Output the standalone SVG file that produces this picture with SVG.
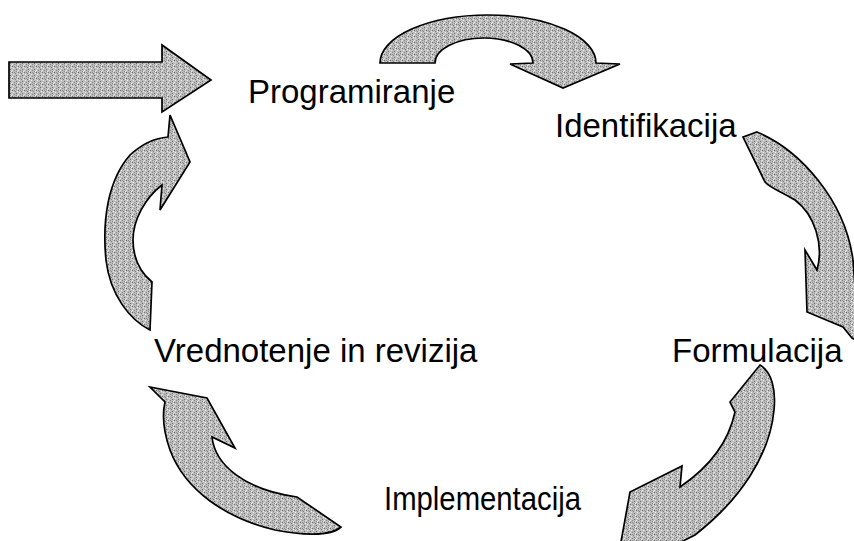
<svg xmlns="http://www.w3.org/2000/svg" width="854" height="541" viewBox="0 0 854 541">
  <defs>
    <!-- fine stipple used to fill the block arrows -->
    <pattern id="stipple" width="6" height="6" patternUnits="userSpaceOnUse">
      <rect width="6" height="6" fill="#bcbcbc"/>
      <rect x="0" y="0" width="1" height="1" fill="#6e6e6e"/>
      <rect x="3" y="1" width="1" height="1" fill="#808080"/>
      <rect x="1" y="2" width="1" height="1" fill="#ececec"/>
      <rect x="4" y="3" width="1" height="1" fill="#707070"/>
      <rect x="2" y="4" width="1" height="1" fill="#888888"/>
      <rect x="5" y="5" width="1" height="1" fill="#eaeaea"/>
      <rect x="0" y="4" width="1" height="1" fill="#e6e6e6"/>
      <rect x="5" y="1" width="1" height="1" fill="#ebebeb"/>
      <rect x="2" y="0" width="1" height="1" fill="#929292"/>
      <rect x="4" y="5" width="1" height="1" fill="#8c8c8c"/>
    </pattern>
    <style>
      .arrow { fill: url(#stipple); stroke: #000; stroke-width: 1.7; stroke-linejoin: miter; }
      .label { font-family: "Liberation Sans", Arial, sans-serif; font-size: 33px; fill: #000; }
    </style>
  </defs>
  <rect width="854" height="541" fill="#fff"/>

  <!-- connectors: block arrows of the cycle -->
  <g id="connectors">
    <path class="arrow" d="M9,62 L162,62 L162,45 L211,80 L162,112 L162,98 L9,98 Z"/>
    <path class="arrow" d="M380,63 A108,48 0 0 1 596,63 L620,64 L563,88 L510,64 L533,63 A49,25 0 0 0 435,63 Z"/>
    <path class="arrow" d="M743,137 L757,132 C800,150 845,200 853,260 L856,300 L856,340 L852,338 L843,327 L807,312 L805,250 L817,270 C824,245 815,215 795,200 C782,192 770,188 765,182 Z"/>
    <path class="arrow" d="M760,365 C772,372 776,390 774,410 C770,455 740,500 695,535 L615,575 L630,492 L682,466 L680,487 C705,470 728,445 735,412 L730,402 Z"/>
    <path class="arrow" d="M150,387 L207,398 L235,448 L212,437 C215,465 245,490 297,497 L341,527 C330,537 300,535 275,530 C225,518 185,490 170,450 C163,430 162,415 165,402 Z"/>
    <path class="arrow" d="M170,115 L190,162 L160,210 L162,185 C145,198 133,220 133,240 C133,258 140,272 152,282 L150,330 C130,320 110,295 106,260 C102,220 108,180 130,155 C143,143 155,138 168,137 Z"/>
  </g>

  <g id="programiranje"><text class="label" x="248" y="103">Programiranje</text></g>
  <g id="identifikacija"><text class="label" x="555" y="137">Identifikacija</text></g>
  <g id="formulacija"><text class="label" x="672" y="362">Formulacija</text></g>
  <g id="implementacija"><text class="label" x="384" y="510" font-size="32" textLength="197" lengthAdjust="spacingAndGlyphs">Implementacija</text></g>
  <g id="vrednotenje"><text class="label" x="154" y="362">Vrednotenje in revizija</text></g>
</svg>
